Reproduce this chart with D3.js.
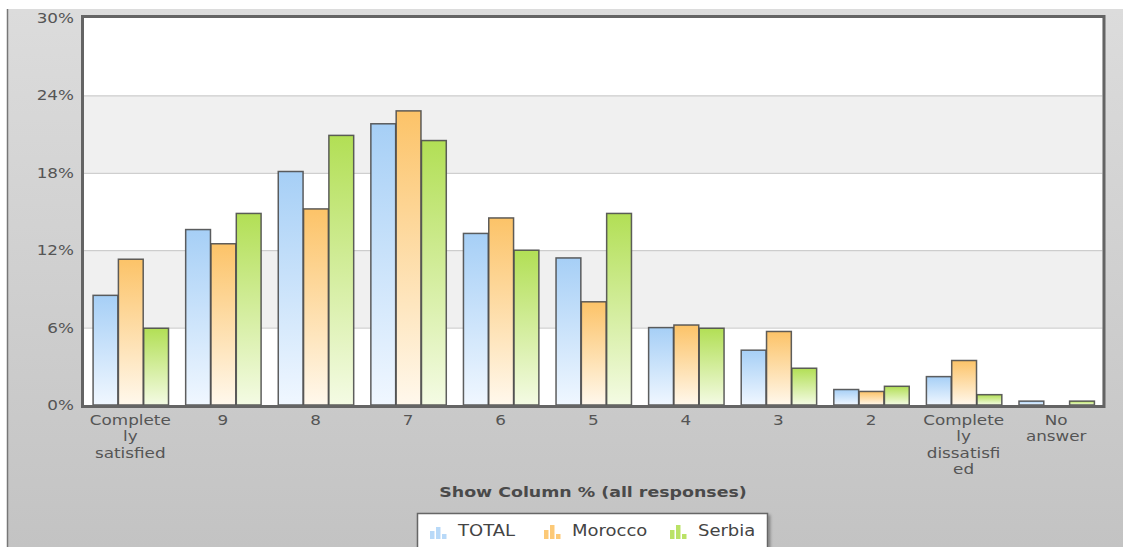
<!DOCTYPE html>
<html><head><meta charset="utf-8">
<script src="https://cdn.jsdelivr.net/npm/d3@7"></script>
<style>html,body{margin:0;padding:0;background:#fff;overflow:hidden}svg{display:block}</style>
</head><body><svg id="c" width="1123" height="547"></svg>
<script>
const categories = [["Complete","ly","satisfied"],["9"],["8"],["7"],["6"],["5"],["4"],["3"],["2"],["Complete","ly","dissatisfi","ed"],["No","answer"]];
const seriesNames = ["TOTAL","Morocco","Serbia"];
const totalValues   = [8.5, 13.6, 18.1, 21.8, 13.3, 11.4, 6.0, 4.25, 1.2, 2.2, 0.3];
const moroccoValues = [11.3, 12.5, 15.2, 22.8, 14.5, 8.0, 6.2, 5.7, 1.05, 3.45, 0];
const serbiaValues  = [5.95, 14.85, 20.9, 20.5, 12.0, 14.85, 5.95, 2.85, 1.45, 0.8, 0.3];
const yTicks = [0, 6, 12, 18, 24, 30];
const axisTitle = "Show Column % (all responses)";

const seriesValues = [totalValues, moroccoValues, serbiaValues];
const colors = [["#a6cff6","#f0f7ff"],["#fcc368","#fff8ec"],["#b2df55","#f4fbe4"]];
const FONT = "DejaVu Sans, Verdana, sans-serif";
const SX = 1.2; // horizontal stretch of text as in the reference

const svg = d3.select("#c");
const defs = svg.append("defs");
const bg = defs.append("linearGradient").attr("id","bg").attr("x1",0).attr("y1",0).attr("x2",0).attr("y2",1);
bg.append("stop").attr("offset","0").attr("stop-color","#dcdcdc");
bg.append("stop").attr("offset","1").attr("stop-color","#c2c2c2");
colors.forEach((c,i)=>{
  const g = defs.append("linearGradient").attr("id","g"+i).attr("x1",0).attr("y1",0).attr("x2",0).attr("y2",1);
  g.append("stop").attr("offset","0").attr("stop-color",c[0]);
  g.append("stop").attr("offset","1").attr("stop-color",c[1]);
});
const sh = defs.append("filter").attr("id","sh").attr("x","-10%").attr("y","-10%").attr("width","130%").attr("height","150%");
sh.append("feDropShadow").attr("dx",2).attr("dy",2).attr("stdDeviation",1.5).attr("flood-color","#000").attr("flood-opacity",0.35);

// outer panel
svg.append("rect").attr("x",8).attr("y",9).attr("width",1123).attr("height",560).attr("fill","url(#bg)");
svg.append("line").attr("x1",7.5).attr("x2",7.5).attr("y1",9).attr("y2",547).attr("stroke","#777").attr("stroke-width",1.5);

const L = 84, R = 1102.5, T = 18, B = 405;
const x = d3.scaleBand().domain(d3.range(categories.length)).range([L, R]).paddingInner(0.18).paddingOuter(0.09);
const xs = d3.scaleBand().domain(d3.range(seriesNames.length)).range([0, x.bandwidth()]);
const y = d3.scaleLinear().domain([0, 30]).range([B, T]);

// plot bg and bands
svg.append("rect").attr("x",L).attr("y",T).attr("width",R-L).attr("height",B-T).attr("fill","#fff");
svg.append("g").selectAll("rect").data(yTicks.slice(0,-1).filter((d,i)=>i%2===1)).join("rect")
  .attr("x",L).attr("width",R-L).attr("y",d=>y(d+6)).attr("height",d=>y(d)-y(d+6)).attr("fill","#f0f0f0");
svg.append("g").selectAll("line").data(yTicks.slice(1,-1)).join("line")
  .attr("x1",L).attr("x2",R).attr("y1",d=>y(d)+0.5).attr("y2",d=>y(d)+0.5).attr("stroke","#c4c4c4").attr("stroke-width",1);

// bars
seriesValues.forEach((vals, si)=>{
  svg.append("g").selectAll("rect").data(vals).join("rect")
    .attr("x",(d,i)=>x(i)+xs(si)+0.75)
    .attr("width",xs.bandwidth()-0.5)
    .attr("y",d=>y(d))
    .attr("height",d=>Math.max(0,y(0)-y(d)))
    .attr("fill","url(#g"+si+")")
    .attr("stroke","#4d4d4d").attr("stroke-width",1.5).attr("stroke-opacity",d=>d>0?0.9:0);
});

// frame
svg.append("rect").attr("x",L-1.5).attr("y",T-1.5).attr("width",R-L+3).attr("height",B-T+3)
  .attr("fill","none").attr("stroke","#646464").attr("stroke-width",3);

// y axis
const yAxis = d3.axisLeft(y).tickValues(yTicks).tickFormat(d=>d+"%").tickSize(0).tickPadding(0);
const ya = svg.append("g").attr("transform",`translate(${L-10},0)`).call(yAxis);
ya.select(".domain").remove();
ya.selectAll(".tick text").attr("font-family",FONT).attr("font-size",14).attr("fill","#555")
  .attr("x",0).attr("transform",`scale(${SX},1)`);

// x labels
const xa = svg.append("g");
categories.forEach((lines,i)=>{
  const cx = x(i)+x.bandwidth()/2;
  const t = xa.append("text").attr("transform",`translate(${cx},425) scale(${SX},1)`)
    .attr("text-anchor","middle").attr("font-family",FONT)
    .attr("font-size",14).attr("fill","#555");
  lines.forEach((ln,k)=>t.append("tspan").attr("x",0).attr("dy",k===0?0:16.5).text(ln));
});

// axis title
svg.append("text").attr("transform",`translate(593,497) scale(${SX},1)`).attr("text-anchor","middle")
  .attr("font-family",FONT).attr("font-size",14.5).attr("font-weight","bold")
  .attr("fill","#4a4a4a").text(axisTitle);

// legend
const lg = svg.append("g");
lg.append("rect").attr("x",417.5).attr("y",513.5).attr("width",350).attr("height",45)
  .attr("fill","#fff").attr("stroke","#666").attr("stroke-width",1.5).attr("filter","url(#sh)");
const legX = [430, 544, 670];
const iconH = [[8,12,5],[9,14,5],[9,14,5]];
seriesNames.forEach((n,i)=>{
  const g = lg.append("g").attr("transform",`translate(${legX[i]},0)`);
  [0,1,2].forEach(k=>{
    g.append("rect").attr("x",k*6).attr("width",4.5).attr("y",539-iconH[i][k]).attr("height",iconH[i][k])
      .attr("fill",colors[i][0]).attr("opacity",i===0?0.8:0.9);
  });
  g.append("text").attr("transform",`translate(28,536) scale(${SX},1)`).attr("font-family",FONT)
    .attr("font-size",15).attr("fill","#444").text(n);
});
</script></body></html>
